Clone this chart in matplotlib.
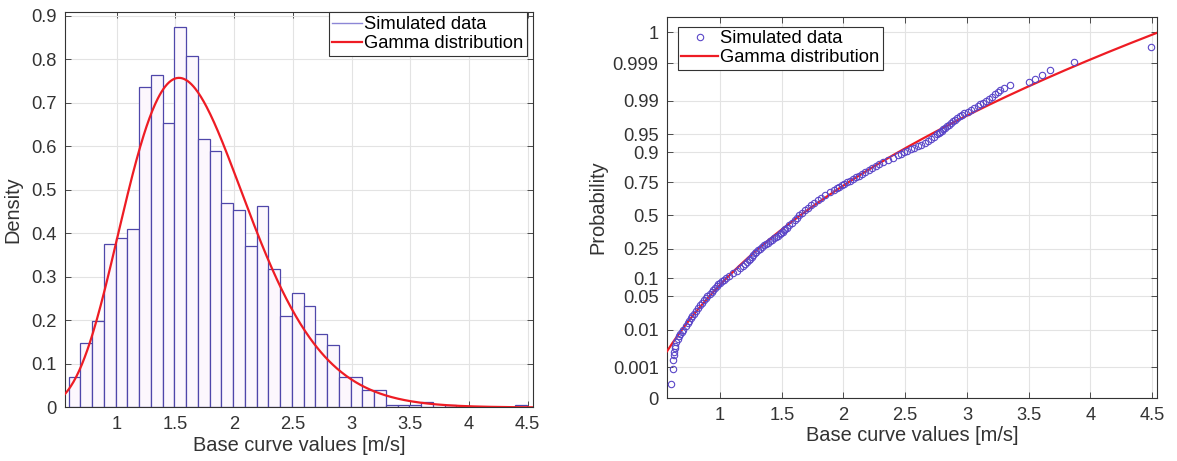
import math
import numpy as np
import matplotlib
matplotlib.use("Agg")
import matplotlib.pyplot as plt
from matplotlib.ticker import FixedLocator, FixedFormatter, NullLocator
from matplotlib.lines import Line2D

# ---------------- data ----------------
# Left panel: density histogram (bin width 0.1)
bin_start = 0.592
bin_width = 0.1
hist_density = [0.07, 0.147, 0.198, 0.375, 0.39, 0.41, 0.737, 0.764, 0.653, 0.873,
                0.808, 0.616, 0.59, 0.469, 0.454, 0.37, 0.462, 0.319, 0.211, 0.263,
                0.232, 0.169, 0.144, 0.071, 0.071, 0.041, 0.041, 0.00625, 0.00625, 0.00625,
                0.0125, 0.0, 0.00625, 0.0, 0.0, 0.0, 0.0, 0.0, 0.00625]

# Fitted gamma distribution parameters
gamma_shape = 9.6
gamma_scale = 0.178

# Right panel: probability plot points (data value, plotting probability)
prob_x = [0.605, 0.617, 0.622, 0.626, 0.629, 0.632, 0.636, 0.645, 0.656, 0.666,
          0.678, 0.69, 0.702, 0.722, 0.738, 0.751, 0.762, 0.773, 0.789, 0.805,
          0.823, 0.84, 0.855, 0.869, 0.884, 0.898, 0.915, 0.931, 0.946, 0.96,
          0.972, 0.985, 1.0, 1.015, 1.03, 1.045, 1.075, 1.105, 1.135, 1.16,
          1.182, 1.202, 1.218, 1.232, 1.245, 1.258, 1.27, 1.282, 1.295, 1.308,
          1.322, 1.338, 1.354, 1.37, 1.388, 1.405, 1.423, 1.44, 1.455, 1.47,
          1.483, 1.495, 1.507, 1.518, 1.529, 1.54, 1.56, 1.582, 1.604, 1.625,
          1.643, 1.665, 1.688, 1.71, 1.735, 1.762, 1.79, 1.82, 1.852, 1.888,
          1.925, 1.945, 1.965, 1.985, 2.005, 2.027, 2.05, 2.075, 2.1, 2.125,
          2.15, 2.178, 2.205, 2.232, 2.26, 2.29, 2.32, 2.36, 2.4, 2.445,
          2.468, 2.49, 2.518, 2.545, 2.572, 2.6, 2.63, 2.66, 2.685, 2.71,
          2.735, 2.76, 2.772, 2.785, 2.797, 2.81, 2.825, 2.84, 2.855, 2.87,
          2.885, 2.9, 2.92, 2.94, 2.96, 2.98, 3.005, 3.03, 3.06, 3.09,
          3.11, 3.13, 3.155, 3.18, 3.205, 3.23, 3.25, 3.27, 3.30, 3.352,
          3.50, 3.555, 3.609, 3.676, 3.871, 4.49]
prob_p = [0.0003, 0.0009, 0.0016, 0.0022, 0.0028, 0.0034, 0.004, 0.005, 0.006, 0.007,
          0.008, 0.009, 0.010, 0.012, 0.014, 0.016, 0.018, 0.020, 0.023, 0.026,
          0.030, 0.034, 0.038, 0.042, 0.046, 0.050, 0.055, 0.060, 0.065, 0.070,
          0.075, 0.08, 0.085, 0.09, 0.095, 0.10, 0.11, 0.12, 0.13, 0.14,
          0.15, 0.16, 0.17, 0.18, 0.19, 0.20, 0.21, 0.22, 0.23, 0.24,
          0.25, 0.26, 0.27, 0.28, 0.29, 0.30, 0.31, 0.32, 0.33, 0.34,
          0.35, 0.36, 0.37, 0.38, 0.39, 0.40, 0.42, 0.44, 0.46, 0.48,
          0.50, 0.52, 0.54, 0.56, 0.58, 0.60, 0.62, 0.64, 0.66, 0.68,
          0.70, 0.71, 0.72, 0.73, 0.74, 0.75, 0.76, 0.77, 0.78, 0.79,
          0.80, 0.81, 0.82, 0.83, 0.84, 0.85, 0.86, 0.87, 0.88, 0.89,
          0.895, 0.90, 0.905, 0.91, 0.915, 0.92, 0.925, 0.93, 0.935, 0.94,
          0.945, 0.95, 0.9525, 0.955, 0.9575, 0.96, 0.9625, 0.965, 0.9675, 0.97,
          0.972, 0.974, 0.976, 0.978, 0.9795, 0.981, 0.9825, 0.984, 0.9855, 0.987,
          0.988, 0.989, 0.990, 0.991, 0.992, 0.993, 0.9938, 0.9945, 0.99531, 0.99594,
          0.99656, 0.99719, 0.99781, 0.99844, 0.99906, 0.99969]

x_ticks = [1, 1.5, 2, 2.5, 3, 3.5, 4, 4.5]
x_tick_labels = ["1", "1.5", "2", "2.5", "3", "3.5", "4", "4.5"]
density_ticks = [0, 0.1, 0.2, 0.3, 0.4, 0.5, 0.6, 0.7, 0.8, 0.9]
density_tick_labels = ["0", "0.1", "0.2", "0.3", "0.4", "0.5", "0.6", "0.7", "0.8", "0.9"]
prob_ticks = [0.0001, 0.001, 0.01, 0.05, 0.1, 0.25, 0.5, 0.75, 0.9, 0.95, 0.99, 0.999, 0.9999]
prob_tick_labels = ["0", "0.001", "0.01", "0.05", "0.1", "0.25", "0.5", "0.75", "0.9",
                    "0.95", "0.99", "0.999", "1"]

# ---------------- helpers ----------------
def gamma_pdf(x, k, th):
    x = np.asarray(x, float)
    return np.exp((k - 1) * np.log(x) - x / th - math.lgamma(k) - k * math.log(th))


def gamma_cdf(x, k, th):
    t = np.asarray(x, float) / th
    term = np.full_like(t, 1.0 / k)
    s = term.copy()
    for n in range(1, 400):
        term = term * t / (k + n)
        s = s + term
    return s * np.exp(-t + k * np.log(t) - math.lgamma(k))


_a = [-3.969683028665376e+01, 2.209460984245205e+02, -2.759285104469687e+02,
      1.383577518672690e+02, -3.066479806614716e+01, 2.506628277459239e+00]
_b = [-5.447609879822406e+01, 1.615858368580409e+02, -1.556989798598866e+02,
      6.680131188771972e+01, -1.328068155288572e+01]
_c = [-7.784894002430293e-03, -3.223964580411365e-01, -2.400758277161838e+00,
      -2.549671010173463e+00, 4.374664141464968e+00, 2.938163982698783e+00]
_d = [7.784695709041462e-03, 3.224671290700398e-01, 2.445134137142996e+00,
      3.754408661907416e+00]


def norm_ppf(p):
    p = np.clip(np.asarray(p, float), 1e-15, 1 - 1e-15)
    out = np.empty_like(p)
    plow = 0.02425
    lo = p < plow
    hi = p > 1 - plow
    mid = ~(lo | hi)
    if np.any(lo):
        q = np.sqrt(-2 * np.log(p[lo]))
        out[lo] = (((((_c[0]*q+_c[1])*q+_c[2])*q+_c[3])*q+_c[4])*q+_c[5]) / \
                  ((((_d[0]*q+_d[1])*q+_d[2])*q+_d[3])*q+1)
    if np.any(hi):
        q = np.sqrt(-2 * np.log(1 - p[hi]))
        out[hi] = -(((((_c[0]*q+_c[1])*q+_c[2])*q+_c[3])*q+_c[4])*q+_c[5]) / \
                  ((((_d[0]*q+_d[1])*q+_d[2])*q+_d[3])*q+1)
    if np.any(mid):
        q = p[mid] - 0.5
        r = q * q
        out[mid] = (((((_a[0]*r+_a[1])*r+_a[2])*r+_a[3])*r+_a[4])*r+_a[5])*q / \
                   (((((_b[0]*r+_b[1])*r+_b[2])*r+_b[3])*r+_b[4])*r+1)
    return out


_erfc = np.vectorize(math.erfc)


def norm_cdf(z):
    z = np.asarray(z, float)
    return 0.5 * _erfc(-z / math.sqrt(2))


# ---------------- style ----------------
FONT = ["Liberation Sans", "DejaVu Sans"]
plt.rcParams["font.family"] = FONT
AX_COL = "#333333"
GRID_COL = "#e3e3e3"
RED = "#ee1c24"
HIST_EDGE = "#4f47aa"
MARK_COL = "#5a46c8"
TICK_FS = 13.2
LABEL_FS = 14.4
LEG_FS = 13.2

fig = plt.figure(figsize=(11.77, 4.61), dpi=100)
ax1 = fig.add_axes([0.0552, 0.1161, 0.3976, 0.8568])
ax2 = fig.add_axes([0.5667, 0.1360, 0.4163, 0.8278])


def style_axes(ax):
    for sp in ax.spines.values():
        sp.set_color(AX_COL)
        sp.set_linewidth(0.8)
    ax.tick_params(direction="in", length=4, width=0.6, colors=AX_COL,
                   labelsize=TICK_FS, top=True, right=True, pad=6)
    ax.grid(True, color=GRID_COL, linewidth=0.8)
    ax.set_axisbelow(True)


# ---------------- left panel ----------------
edges = bin_start + bin_width * np.arange(len(hist_density))
ax1.bar(edges, hist_density, width=bin_width, align="edge",
        facecolor="#fcf7fd", edgecolor=HIST_EDGE, linewidth=0.9,
        label="Simulated data", zorder=2)
xx = np.linspace(0.56, 4.545, 500)
ax1.plot(xx, gamma_pdf(xx, gamma_shape, gamma_scale), color=RED, lw=1.6,
         label="Gamma distribution", zorder=3)
ax1.set_xlim(0.56, 4.545)
ax1.set_ylim(0, 0.907)
ax1.xaxis.set_major_locator(FixedLocator(x_ticks))
ax1.xaxis.set_major_formatter(FixedFormatter(x_tick_labels))
ax1.yaxis.set_major_locator(FixedLocator(density_ticks))
ax1.yaxis.set_major_formatter(FixedFormatter(density_tick_labels))
style_axes(ax1)
ax1.set_xlabel("Base curve values [m/s]", fontsize=LABEL_FS, color=AX_COL, labelpad=2)
ax1.set_ylabel("Density", fontsize=LABEL_FS, color=AX_COL, labelpad=6)
h1 = [Line2D([], [], color="#8c86d6", lw=1.0), Line2D([], [], color=RED, lw=1.6)]
leg1 = ax1.legend(h1, ["Simulated data", "Gamma distribution"], loc="upper right",
                  bbox_to_anchor=(0.988, 1.0), borderaxespad=0, fontsize=LEG_FS,
                  handlelength=1.6, handletextpad=0.15, labelspacing=0.12,
                  borderpad=0.2, fancybox=False, framealpha=1, edgecolor=AX_COL)
leg1.get_frame().set_linewidth(0.8)

# ---------------- right panel ----------------
ax2.set_yscale("function", functions=(norm_ppf, norm_cdf))
xg = np.linspace(0.57, 4.54, 400)
ax2.plot(xg, gamma_cdf(xg, gamma_shape, gamma_scale), color=RED, lw=1.6,
         label="Gamma distribution", zorder=3)
ax2.plot(prob_x, prob_p, linestyle="none", marker="o", markersize=4.6,
         markerfacecolor="none", markeredgecolor=MARK_COL, markeredgewidth=0.8,
         label="Simulated data", zorder=4)
ax2.set_xlim(0.57, 4.54)
ax2.set_ylim(0.0001, 0.999973)
ax2.xaxis.set_major_locator(FixedLocator(x_ticks))
ax2.xaxis.set_major_formatter(FixedFormatter(x_tick_labels))
ax2.yaxis.set_major_locator(FixedLocator(prob_ticks))
ax2.yaxis.set_major_formatter(FixedFormatter(prob_tick_labels))
ax2.yaxis.set_minor_locator(NullLocator())
style_axes(ax2)
ax2.set_xlabel("Base curve values [m/s]", fontsize=LABEL_FS, color=AX_COL, labelpad=2)
ax2.set_ylabel("Probability", fontsize=LABEL_FS, color=AX_COL, labelpad=4)
h2 = [Line2D([], [], linestyle="none", marker="o", markersize=4.6,
             markerfacecolor="none", markeredgecolor=MARK_COL, markeredgewidth=0.8),
      Line2D([], [], color=RED, lw=1.6)]
leg2 = ax2.legend(h2, ["Simulated data", "Gamma distribution"], loc="upper left",
                  bbox_to_anchor=(0.022, 0.974), borderaxespad=0, fontsize=LEG_FS,
                  handlelength=2.0, handletextpad=0.1, labelspacing=0.12,
                  borderpad=0.2, fancybox=False, framealpha=1, edgecolor=AX_COL)
leg2.get_frame().set_linewidth(0.8)

fig.savefig("out.png", dpi=100)
